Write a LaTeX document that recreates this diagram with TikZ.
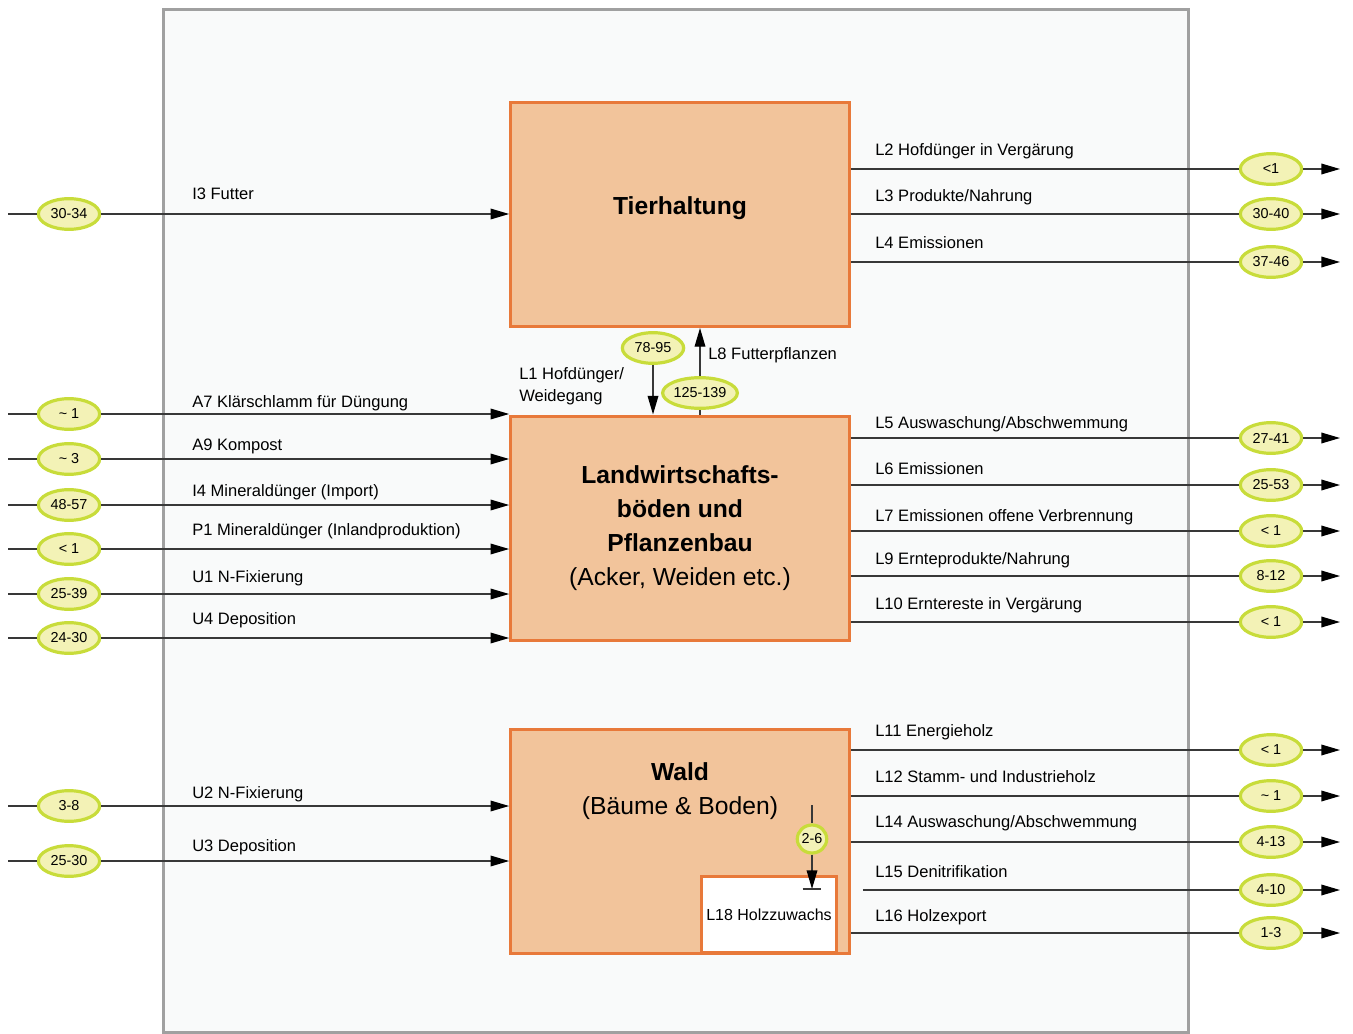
\documentclass[tikz,border=0pt]{standalone}
\usepackage{fontspec}
\setmainfont{Liberation Sans}
\usetikzlibrary{shapes.geometric,arrows.meta}
\definecolor{boxfill}{HTML}{F2C49B}
\definecolor{boxline}{HTML}{E8793A}
\definecolor{ellfill}{HTML}{F3F2B6}
\definecolor{ellline}{HTML}{C8DC3A}
\definecolor{frame}{HTML}{A0A0A0}
\definecolor{bg}{HTML}{F9FAFA}
\definecolor{conn}{HTML}{383838}
\begin{document}
\begin{tikzpicture}[x=0.75pt,y=-0.75pt,
  flowbox/.style={draw=boxline,fill=boxfill,line width=2.25pt,minimum width=254pt,minimum height=168pt,inner sep=0pt,align=center,font=\fontsize{18.5}{25.5}\selectfont},
  val/.style={ellipse,draw=ellline,fill=ellfill,line width=2.4pt,minimum width=46pt,minimum height=23pt,inner sep=0pt,font=\fontsize{10.8}{12}\selectfont},
  lbl/.style={anchor=west,inner sep=0pt,font=\fontsize{12.4}{16.5}\selectfont},
  flow/.style={draw=conn,line width=1pt},
  arr/.style={flow,-{Triangle[length=14pt,width=8pt,color=black]}}
]
\useasboundingbox (0,0) rectangle (1353,1034);
\draw[draw=frame,fill=bg,line width=2.25pt] (163,10) rectangle (1188,1032);

% boxes
\node[flowbox] (tier) at (680,214.5) {};
\node[inner sep=0pt,font=\fontsize{18.5}{25.5}\selectfont\bfseries] (tiert) at (680,208) {Tierhaltung};
\node[flowbox] (land) at (680,528) {\bfseries Landwirtschafts-\\\bfseries b\"oden und\\\bfseries Pflanzenbau\\(Acker, Weiden etc.)};
\node[flowbox] (wald) at (680,841.5) {};
\node[align=center,inner sep=0pt,font=\fontsize{18.5}{25}\selectfont] (waldt) at (680,791) {\bfseries Wald\\(B\"aume \& Boden)};
\node[draw=boxline,fill=white,line width=2.25pt,minimum width=101pt,minimum height=57pt,inner sep=0pt,font=\fontsize{12}{14}\selectfont] (holz) at (769,914.5) {L18 Holzzuwachs};

% left inputs
\foreach \n/\y/\v/\ly/\t/\b in {
  i3/214/30-34/194/{I3 Futter}/tier,
  a7/414/{\textasciitilde\ 1}/403/{A7 Kl\"arschlamm f\"ur D\"ungung}/land,
  a9/459/{\textasciitilde\ 3}/446/{A9 Kompost}/land,
  i4/505/48-57/492/{I4 Minerald\"unger (Import)}/land,
  p1/549/{< 1}/531/{P1 Minerald\"unger (Inlandproduktion)}/land,
  u1/594/25-39/578/{U1 N-Fixierung}/land,
  u4/638/24-30/620/{U4 Deposition}/land,
  u2/806/3-8/794/{U2 N-Fixierung}/wald,
  u3/861/25-30/847/{U3 Deposition}/wald}{
  \coordinate (s\n) at (8,\y);
  \node[val] (e\n) at (69,\y) {\v};
  \draw[flow] (s\n) -- (e\n);
  \draw[arr] (e\n) -- (\b.west |- e\n);
  \node[lbl] (l\n) at (192,\ly) {\t};
}

% right outputs
\foreach \n/\y/\v/\ly/\t/\b/\sx in {
  l2/169/{<1}/151/{L2 Hofd\"unger in Verg\"arung}/tier/0,
  l3/214/30-40/197/{L3 Produkte/Nahrung}/tier/0,
  l4/262/37-46/243/{L4 Emissionen}/tier/0,
  l5/438/27-41/424/{L5 Auswaschung/Abschwemmung}/land/0,
  l6/485/25-53/469/{L6 Emissionen}/land/0,
  l7/531/{< 1}/517/{L7 Emissionen offene Verbrennung}/land/0,
  l9/576/8-12/560/{L9 Ernteprodukte/Nahrung}/land/0,
  l10/622/{< 1}/605/{L10 Erntereste in Verg\"arung}/land/0,
  l11/750/{< 1}/732/{L11 Energieholz}/wald/0,
  l12/796/{\textasciitilde\ 1}/777/{L12 Stamm- und Industrieholz}/wald/0,
  l14/842/4-13/823/{L14 Auswaschung/Abschwemmung}/wald/0,
  l15/890/4-10/872/{L15 Denitrifikation}/wald/12,
  l16/933/1-3/917/{L16 Holzexport}/wald/0}{
  \coordinate (t\n) at (1340,\y);
  \node[val] (e\n) at (1271,\y) {\v};
  \draw[flow] ([xshift=\sx*0.75pt]\b.east |- e\n) -- (e\n);
  \draw[arr] (e\n) -- (t\n);
  \node[lbl] (r\n) at (875,\ly) {\t};
}

% exchange between Tierhaltung and Landwirtschaft
\node[val] (e1) at (653,348) {78-95};
\draw[arr] (e1) -- (land.north -| e1);
\node[lbl,align=left] (ll1) at (519,386) {L1 Hofd\"unger/\\Weidegang};
\node[val] (e8) at (700,393) {125-139};
\draw[flow] (land.north -| e8) -- (e8);
\draw[arr] (e8) -- (tier.south -| e8);
\node[lbl] (ll8) at (708,355) {L8 Futterpflanzen};

% wood growth
\coordinate (w0) at (812,805);
\coordinate (w1) at (812,889);
\node[val,minimum width=19pt,minimum height=21pt] (e18) at (812,839) {2-6};
\draw[flow] (w0) -- (e18);
\draw[arr] (e18) -- (w1);
\draw[flow] ([xshift=-7pt]w1) -- ([xshift=7pt]w1);
\end{tikzpicture}
\end{document}
